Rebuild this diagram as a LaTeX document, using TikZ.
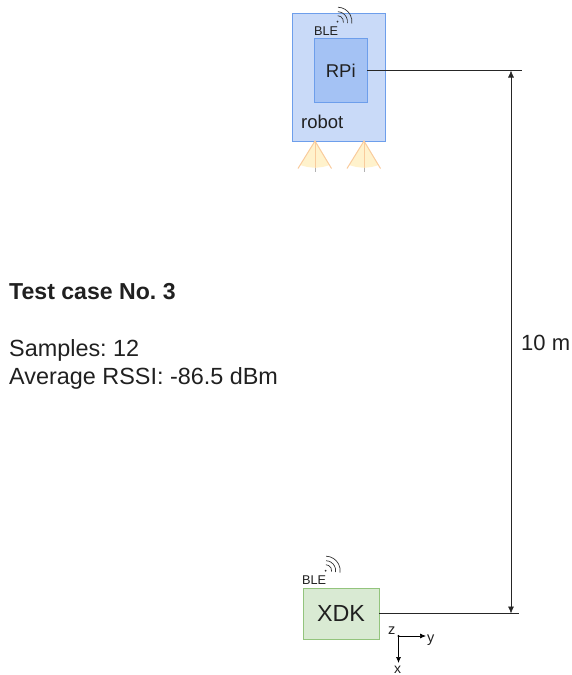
\documentclass[tikz,border=0pt]{standalone}
\usepackage{fontspec}
\setmainfont{Liberation Sans}
\usetikzlibrary{arrows.meta}
\definecolor{robotfill}{HTML}{C9DAF8}
\definecolor{robotline}{HTML}{6D9EEB}
\definecolor{rpifill}{HTML}{A4C2F4}
\definecolor{xdkfill}{HTML}{D9EAD3}
\definecolor{xdkline}{HTML}{93C47D}
\definecolor{beamfill}{HTML}{FFF2CC}
\definecolor{beamline}{HTML}{F9CB9C}
\definecolor{txt}{HTML}{202020}
\newcommand{\fs}[1]{\fontsize{#1}{#1}\selectfont}
\frenchspacing
\tikzset{
  x=1pt,y=-1pt,
  txtnode/.style={inner sep=0pt,text=txt,anchor=base west},
  box/.style={draw,line width=0.9pt,inner sep=0pt,text=txt},
  wire/.style={line width=0.7pt,black!85},
  dim/.style={line width=0.7pt,black!85,{Latex[length=7pt,width=6pt]}-{Latex[length=7pt,width=6pt]}},
  axis/.style={line width=0.7pt,black,-{Latex[length=6pt,width=5pt]}},
  wave/.style={line width=0.7pt,black!80},
  pics/wifi/.style={code={
    \fill[black!80] (0,0) circle[radius=1pt];
    \foreach \r in {6,10,14.5}{\draw[wave] (0,0) ++(88:\r pt) arc[start angle=88,end angle=-8,radius=\r pt];}
  }},
  pics/beam/.style={code={
    \fill[beamfill] (0,0) -- (-14.5,24) .. controls (-6,27.5) and (6,27.5) .. (14.5,24) -- cycle;
    \draw[beamline,line width=1pt] (-17,27.5) -- (0,0) -- (16.5,27.5);
    \draw[beamline,line width=1pt] (0,0) -- (0,27);
    \draw[black!30,line width=1pt] (0,27) -- (0,31);
  }}
}
\begin{document}
\begin{tikzpicture}
\useasboundingbox (0,0) rectangle (571,675);
% robot
\node[box,fill=robotfill,draw=robotline,minimum width=93.5pt,minimum height=128pt] (robot) at (338.75,77) {};
\node[box,fill=rpifill,draw=robotline,minimum width=52.5pt,minimum height=64pt] (rpi) at (340.75,70.5) {\fs{18.5}RPi};
\node[txtnode] (robotlabel) at (301,128) {\fs{18.5}robot};
\node[txtnode] (blea) at (314,35.5) {\fs{12.7}BLE};
\pic at (337.5,21.7) {wifi};
\pic at (315,141) {beam};
\pic at (364,141) {beam};
% xdk
\node[box,fill=xdkfill,draw=xdkline,minimum width=76pt,minimum height=51pt] (xdk) at (341,613.5) {\fs{23.3}XDK};
\node[txtnode] (bleb) at (302,584) {\fs{12.7}BLE};
\pic at (325.7,570.7) {wifi};
% dimension
\coordinate (topend) at (522,70.5);
\coordinate (botend) at (519,613.5);
\coordinate (dimtop) at (511,70.5);
\coordinate (dimbot) at (511,613.5);
\draw[wire] (rpi.east) -- (topend);
\draw[wire] (xdk.east) -- (botend);
\draw[dim] (dimtop) -- (dimbot);
\node[txtnode] (dist) at (521,350) {\fs{22}10 m};
% axes
\coordinate (orig) at (398.5,636);
\coordinate (ytip) at (426,636);
\coordinate (xtip) at (398.5,663);
\fill[black] (orig) circle[radius=1.1pt];
\draw[axis] (orig) -- (ytip);
\draw[axis] (orig) -- (xtip);
\node[txtnode] (zl) at (388,634) {\fs{14.5}z};
\node[txtnode] (yl) at (427,642) {\fs{14.5}y};
\node[txtnode] (xl) at (394,673.5) {\fs{14}x};
% text
\node[txtnode] (title) at (9,299) {\fs{23.1}\bfseries Test case No. 3};
\node[txtnode] (samples) at (9,356) {\fs{23.4}Samples: 12};
\node[txtnode] (avg) at (9,384) {\fs{23.4}Average RSSI: -86.5 dBm};
\end{tikzpicture}
\end{document}
